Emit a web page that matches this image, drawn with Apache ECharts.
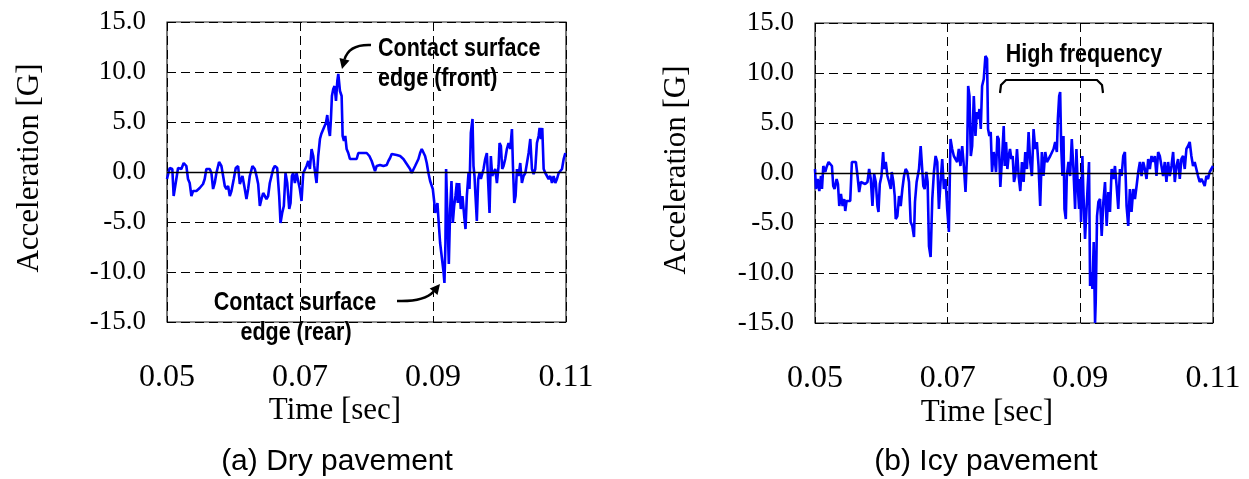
<!DOCTYPE html>
<html>
<head>
<meta charset="utf-8">
<script src="https://cdn.jsdelivr.net/npm/echarts@6/dist/echarts.min.js"></script>
<style>html,body{margin:0;padding:0;background:#fff;}#c{width:1249px;height:479px;}</style>
</head>
<body>
<div id="c"></div>
<script>
// X tick labels (seconds) and Y range
const xTickLabels = ['0.05', '0.07', '0.09', '0.11'];
const yTicks = [-15, -10, -5, 0, 5, 10, 15];

// (a) Dry pavement: time [ms], acceleration [G]
const timeA = [50.00,50.40,50.80,51.00,51.31,51.66,52.16,52.51,52.91,53.16,53.41,53.67,53.92,54.42,54.92,55.42,55.67,55.92,56.43,56.68,56.93,57.18,57.43,57.83,58.18,58.44,58.69,58.94,59.19,59.44,59.69,60.04,60.34,60.69,60.95,61.35,61.70,61.95,62.20,62.45,62.85,63.20,63.46,63.71,63.96,64.21,64.46,64.71,64.96,65.21,65.46,65.97,66.22,66.57,66.87,67.07,67.32,67.57,67.82,68.08,68.38,68.58,68.78,68.98,69.23,69.48,69.73,69.98,70.23,70.49,70.79,70.99,71.24,71.49,71.74,71.99,72.14,72.34,72.49,72.74,73.00,73.20,73.50,73.70,73.90,74.10,74.30,74.50,74.65,74.80,75.00,75.20,75.41,75.61,75.76,76.01,76.26,76.41,76.61,76.81,77.01,77.26,77.51,77.77,78.02,78.52,78.77,79.02,79.52,80.03,80.43,80.78,81.03,81.28,81.53,82.03,82.54,83.04,83.29,83.54,83.79,84.04,84.54,85.05,85.55,86.05,86.55,86.80,87.05,87.31,87.56,87.81,88.06,88.31,88.56,88.81,89.06,89.31,89.57,89.82,89.97,90.17,90.32,90.47,90.67,90.82,91.07,91.32,91.57,91.72,91.87,91.97,92.17,92.38,92.58,92.78,92.98,93.18,93.38,93.58,93.73,93.93,94.18,94.43,94.69,94.89,95.09,95.34,95.49,95.69,95.94,96.09,96.24,96.39,96.59,96.80,97.00,97.20,97.40,97.60,97.85,98.10,98.30,98.50,98.70,98.90,99.10,99.36,99.61,99.86,100.01,100.21,100.41,100.61,100.86,101.11,101.36,101.62,101.87,102.02,102.22,102.42,102.62,102.87,103.12,103.37,103.62,103.88,104.13,104.38,104.63,104.88,105.13,105.38,105.63,105.88,106.03,106.23,106.43,106.64,106.89,107.14,107.39,107.64,107.89,108.14,108.39,108.64,108.90,109.15,109.40,109.65,109.90];
const accA = [-0.7,0.4,0.3,-2.4,-1.1,0.4,0.3,0.9,0.6,-0.7,-1.1,-2.4,-1.9,-1.9,-1.6,-1.2,-0.7,0.3,0.3,-0.1,-1.7,-1.1,-0.1,1.0,0.6,-0.4,-1.4,-1.7,-1.4,-2.4,-1.9,-0.7,0.4,0.6,-1.2,-0.4,-1.7,-2.7,-1.7,-0.4,0.6,0.3,-0.4,-1.2,-3.4,-2.7,-2.1,-2.2,-2.7,-2.4,-1.1,0.3,0.6,0.4,-2.4,-5.1,-4.1,-3.4,-0.1,-1.1,-3.7,-3.1,-0.4,-0.1,-1.1,-0.1,0.1,-1.7,-2.9,-0.1,0.1,0.6,1.1,0.3,2.3,1.6,0.6,-0.4,-1.1,1.6,3.3,3.8,3.9,4.6,4.9,5.7,4.3,3.6,5.3,7.6,8.3,8.6,7.1,9.1,9.8,8.1,7.6,3.6,3.1,3.6,2.3,1.9,1.3,1.1,1.3,1.3,1.9,1.8,1.9,1.9,1.6,1.1,0.6,0.1,0.6,0.7,0.6,0.7,1.1,1.4,1.8,1.6,1.7,1.6,1.3,0.8,0.3,-0.1,0.1,0.6,0.8,1.3,1.9,2.3,2.1,1.6,0.9,-0.1,-0.9,-1.1,-1.7,-2.9,-4.1,-3.7,-3.1,-4.7,-7.1,-7.1,-9.9,-11.1,-7.1,0.3,-4.4,-9.2,-3.7,-0.9,-5.1,-3.4,-2.4,-1.1,-3.1,-1.1,-3.7,-2.4,-4.4,-5.7,-2.4,-0.1,-1.7,3.9,5.3,0.6,-0.4,-2.4,-4.9,-0.7,-0.1,-0.7,-0.2,0.3,1.3,1.9,-1.1,-4.1,1.6,-0.4,-0.1,0.3,-1.1,0.6,2.9,2.6,0.3,0.6,1.3,2.3,2.9,2.3,4.3,0.6,-3.1,-2.4,0.3,-0.4,0.9,-1.1,-0.4,-0.1,0.9,1.9,3.3,0.3,-0.2,0.3,2.9,3.6,4.4,3.3,4.4,0.3,-0.1,0.1,-0.7,-0.4,-1.1,-0.4,-1.1,-0.7,-0.1,-0.2,0.3,1.3,1.9];

// (b) Icy pavement: time [ms], acceleration [G]
const timeB = [50.00,50.15,50.40,50.65,50.90,51.05,51.25,51.55,51.75,52.05,52.30,52.55,52.75,52.95,53.26,53.46,53.66,53.91,54.16,54.41,54.56,54.76,55.06,55.31,55.56,55.81,56.16,56.41,56.66,56.91,57.16,57.56,57.91,58.16,58.41,58.66,58.91,59.16,59.41,59.57,59.77,60.02,60.27,60.42,60.67,60.92,61.17,61.42,61.57,61.82,62.02,62.17,62.42,62.67,62.92,63.17,63.42,63.67,63.92,64.17,64.42,64.67,64.92,65.07,65.32,65.68,65.93,66.18,66.33,66.53,66.78,66.98,67.18,67.43,67.68,67.93,68.18,68.43,68.68,68.93,69.18,69.43,69.68,69.93,70.18,70.43,70.68,70.93,71.18,71.43,71.68,71.93,72.19,72.44,72.69,72.94,73.09,73.29,73.49,73.69,73.94,74.19,74.39,74.59,74.79,74.99,75.19,75.44,75.69,75.94,76.09,76.29,76.49,76.69,76.94,77.09,77.29,77.49,77.69,77.94,78.19,78.45,78.60,78.80,79.00,79.20,79.40,79.60,79.80,80.00,80.20,80.45,80.70,80.95,81.20,81.45,81.70,81.95,82.20,82.45,82.70,82.95,83.20,83.45,83.70,83.95,84.20,84.45,84.71,84.96,85.21,85.46,85.71,85.96,86.21,86.46,86.61,86.81,86.96,87.11,87.31,87.46,87.61,87.81,87.96,88.21,88.46,88.71,88.96,89.21,89.41,89.61,89.81,89.96,90.11,90.31,90.46,90.71,90.96,91.11,91.31,91.47,91.62,91.82,92.02,92.22,92.32,92.52,92.72,92.97,93.22,93.47,93.72,93.97,94.22,94.47,94.72,94.97,95.22,95.47,95.72,95.97,96.22,96.47,96.72,96.97,97.22,97.47,97.72,97.98,98.23,98.48,98.73,98.98,99.23,99.48,99.73,99.98,100.23,100.48,100.73,100.98,101.23,101.48,101.73,101.98,102.23,102.48,102.73,102.98,103.23,103.48,103.74,103.99,104.24,104.49,104.74,104.99,105.24,105.49,105.74,105.99,106.24,106.49,106.74,106.99,107.24,107.49,107.74,107.99,108.24,108.49,108.75,109.00,109.25,109.50,109.75,110.00];
const accB = [0.4,-1.6,-0.6,-1.8,-0.3,-1.6,0.7,0.1,0.6,1.1,1.2,0.7,-1.3,-1.6,-0.6,-1.1,-3.3,-2.1,-3.3,-2.6,-3.8,-2.8,-2.9,-2.8,1.1,1.2,1.1,-0.3,-1.9,-0.9,-0.9,-1.1,-0.9,0.4,-0.6,-3.3,-0.1,-0.9,-3.3,-3.9,-1.1,-0.3,2.1,0.4,1.1,-0.3,-0.9,-1.6,0.1,-0.9,-2.3,-4.6,-4.3,-2.3,-3.3,-1.6,-0.3,0.4,0.1,-0.9,-4.9,-5.3,-6.4,-2.9,-0.9,0.4,2.7,2.7,-1.3,-1.6,0.1,-0.9,-7.3,-8.4,-2.6,0.1,1.7,1.1,-3.6,-0.9,1.4,-1.6,-0.6,-3.6,-5.9,3.4,2.4,1.7,1.4,1.1,2.4,0.7,2.7,0.7,-1.9,2.1,8.7,7.7,1.7,2.7,7.7,3.7,6.1,5.4,6.4,4.4,8.7,9.4,11.7,11.4,4.4,3.7,4.1,0.1,2.1,1.4,0.1,3.7,3.4,-1.4,1.4,4.7,0.7,3.1,0.4,1.7,2.4,1.4,1.7,-0.9,-0.3,2.4,-0.3,-1.8,1.1,-0.9,2.1,0.4,4.1,1.1,-0.3,4.4,2.4,3.1,0.7,-3.3,2.1,-0.3,2.1,1.1,1.4,1.7,1.6,2.4,3.1,2.1,5.4,7.7,8.1,2.7,-0.3,3.7,-3.6,-4.6,-0.3,1.1,-0.3,3.4,0.4,-3.6,2.4,-1.3,-3.6,-0.6,-4.9,1.7,-1.9,-6.6,-6.6,-1.3,1.1,-11.3,-9.9,-11.6,-6.9,-15.0,-12.9,-4.3,-2.9,-2.6,-6.3,-2.9,-0.9,-5.3,-1.9,-3.9,0.4,-0.6,0.7,-1.3,-3.6,0.4,-0.3,1.7,2.1,-3.3,-5.3,-1.6,-3.9,-1.6,-2.6,-1.3,0.1,1.1,-0.3,1.1,0.4,-0.6,1.4,0.4,1.7,1.1,1.7,-0.3,2.1,1.7,0.7,-0.3,1.1,-0.9,1.1,-0.3,0.7,2.1,-0.9,0.7,1.4,-0.6,1.4,1.7,0.4,2.4,2.7,3.1,1.7,0.7,1.1,0.4,-0.3,-0.9,-0.6,-0.9,-1.3,-0.3,-0.6,0.1,0.4,0.7];

const dataA = timeA.map((t, i) => [t, accA[i]]);
const dataB = timeB.map((t, i) => [t, accB[i]]);

const serif = 'Liberation Serif, Times New Roman, serif';
const sans = 'Liberation Sans, Arial, sans-serif';
const dash = [9, 5];

function xAxisCfg(gi) {
  return {
    type: 'value', gridIndex: gi, min: 50, max: 110, interval: 20,
    axisLine: { show: false }, axisTick: { show: false },
    axisLabel: {
      margin: 40, color: '#000', fontFamily: serif, fontSize: 32,
      formatter: v => xTickLabels[Math.round((v - 50) / 20)]
    },
    splitLine: { show: true, lineStyle: { color: '#000', width: 1, type: dash } }
  };
}
function yAxisCfg(gi) {
  return {
    type: 'value', gridIndex: gi, min: yTicks[0], max: yTicks[yTicks.length - 1], interval: 5,
    axisLine: { show: false }, axisTick: { show: false },
    axisLabel: { margin: 21, color: '#000', fontFamily: serif, fontSize: 27, formatter: v => v.toFixed(1) },
    splitLine: { show: true, lineStyle: { color: '#000', width: 1, type: dash } }
  };
}
function lineSeries(gi, data) {
  return {
    type: 'line', xAxisIndex: gi, yAxisIndex: gi, data: data,
    showSymbol: false, symbol: 'none', animation: false,
    lineStyle: { color: '#0000ff', width: 2.6 },
    markLine: {
      silent: true, symbol: 'none', label: { show: false },
      lineStyle: { color: '#000', width: 1.3, type: 'solid' },
      data: [{ yAxis: 0 }], animation: false
    },
    z: 3
  };
}

function txt(x, y, text, font, size, weight, align, rot, sx) {
  return {
    type: 'text', x: x, y: y, rotation: rot || 0, scaleX: sx || 1, z: 10,
    style: {
      text: text, fill: '#000', font: (weight || 'normal') + ' ' + size + 'px ' + font,
      textAlign: align || 'center', textVerticalAlign: 'middle'
    }
  };
}
const NX = 0.86; // condensed look of the annotation font

const chart = echarts.init(document.getElementById('c'), null, { renderer: 'canvas' });
chart.setOption({
  animation: false,
  backgroundColor: '#fff',
  grid: [
    { left: 167, top: 22, width: 399, height: 300, show: true, borderColor: '#222', borderWidth: 1.2, backgroundColor: 'transparent' },
    { left: 815, top: 23, width: 398, height: 300, show: true, borderColor: '#222', borderWidth: 1.2, backgroundColor: 'transparent' }
  ],
  xAxis: [xAxisCfg(0), xAxisCfg(1)],
  yAxis: [yAxisCfg(0), yAxisCfg(1)],
  series: [lineSeries(0, dataA), lineSeries(1, dataB)],
  graphic: [
    txt(30, 168, 'Acceleration [G]', serif, 31, 'normal', 'center', Math.PI / 2),
    txt(677, 170, 'Acceleration [G]', serif, 31, 'normal', 'center', Math.PI / 2),
    txt(335, 411, 'Time [sec]', serif, 31),
    txt(987, 413, 'Time [sec]', serif, 31),
    txt(337, 462, '(a) Dry pavement', sans, 30),
    txt(986, 462, '(b) Icy pavement', sans, 30),
    txt(378, 49, 'Contact surface', sans, 25, 'bold', 'left', 0, NX),
    txt(378, 79, 'edge (front)', sans, 25, 'bold', 'left', 0, NX),
    txt(295, 303, 'Contact surface', sans, 25, 'bold', 'center', 0, NX),
    txt(296, 333, 'edge (rear)', sans, 25, 'bold', 'center', 0, NX),
    txt(1084, 55, 'High frequency', sans, 25, 'bold', 'center', 0, NX),
    // front arrow
    { type: 'bezierCurve', z: 10, shape: { x1: 371, y1: 45, cpx1: 349, cpy1: 44, x2: 344.5, y2: 59.5 },
      style: { stroke: '#000', lineWidth: 2.5, fill: null } },
    { type: 'polygon', z: 10, shape: { points: [[342, 69], [349.5, 60.5], [339.5, 58]] }, style: { fill: '#000' } },
    // rear arrow
    { type: 'bezierCurve', z: 10, shape: { x1: 397, y1: 301, cpx1: 424, cpy1: 302, x2: 433.6, y2: 291.7 },
      style: { stroke: '#000', lineWidth: 2.5, fill: null } },
    { type: 'polygon', z: 10, shape: { points: [[440, 284], [437.5, 295], [429.7, 288.5]] }, style: { fill: '#000' } },
    // bracket
    { type: 'polyline', z: 10, shape: { points: [[1000, 93], [1001, 85], [1006, 80], [1097, 80], [1102, 85], [1103, 93]] },
      style: { stroke: '#000', lineWidth: 2.2, fill: null } }
  ]
});
</script>
</body>
</html>
